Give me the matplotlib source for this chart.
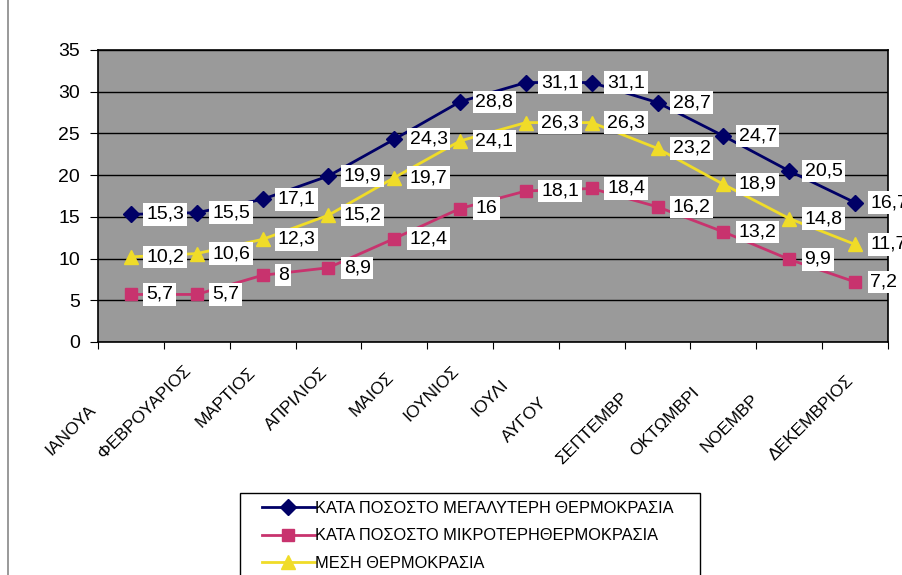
import matplotlib.pyplot as plt
from matplotlib.lines import Line2D
from matplotlib.patches import Rectangle
from matplotlib.transforms import offset_copy

plt.rcParams['font.family'] = ['Liberation Sans', 'DejaVu Sans']

months = ['ΙΑΝΟΥΑ', 'ΦΕΒΡΟΥΑΡΙΟΣ', 'ΜΑΡΤΙΟΣ', 'ΑΠΡΙΛΙΟΣ', 'ΜΑΙΟΣ', 'ΙΟΥΝΙΟΣ',
          'ΙΟΥΛΙ', 'ΑΥΓΟΥ', 'ΣΕΠΤΕΜΒΡ', 'ΟΚΤΩΜΒΡΙ', 'ΝΟΕΜΒΡ', 'ΔΕΚΕΜΒΡΙΟΣ']
max_temp = [15.3, 15.5, 17.1, 19.9, 24.3, 28.8, 31.1, 31.1, 28.7, 24.7, 20.5, 16.7]
min_temp = [5.7, 5.7, 8, 8.9, 12.4, 16, 18.1, 18.4, 16.2, 13.2, 9.9, 7.2]
mean_temp = [10.2, 10.6, 12.3, 15.2, 19.7, 24.1, 26.3, 26.3, 23.2, 18.9, 14.8, 11.7]

labels = ['ΚΑΤΑ ΠΟΣΟΣΤΟ ΜΕΓΑΛΥΤΕΡΗ ΘΕΡΜΟΚΡΑΣΙΑ',
          'ΚΑΤΑ ΠΟΣΟΣΤΟ ΜΙΚΡΟΤΕΡΗΘΕΡΜΟΚΡΑΣΙΑ',
          'ΜΕΣΗ ΘΕΡΜΟΚΡΑΣΙΑ']

# where each (clipped) month label ends, pixels left of / below its category
label_shift = [(43, 60), (14, 21), (15, 23), (8, 23), (8, 28), (9, 21),
               (25, 35), (53, 53), (37, 48), (32, 43), (38, 50), (9, 31)]

fig = plt.figure(figsize=(9.02, 5.75), dpi=100)
ax = fig.add_axes([98 / 902, 1 - 342 / 575, 790 / 902, 292 / 575])
ax.set_facecolor('#9a9a9a')

x = list(range(len(months)))
series = [
    (max_temp, '#000066', 'D', 8),
    (min_temp, '#c8336e', 's', 8.5),
    (mean_temp, '#f0dc28', '^', 10.5),
]
handles = []
for (vals, color, marker, ms), lab in zip(series, labels):
    h, = ax.plot(x, vals, color=color, marker=marker, markersize=ms, lw=2,
                 label=lab, zorder=3)
    handles.append(h)
    # value labels in white boxes, comma decimals
    for xi, v in zip(x, vals):
        txt = f'{v:g}'.replace('.', ',')
        ax.annotate(txt, (xi, v), xytext=(11, 0), textcoords='offset points',
                    ha='left', va='center', fontsize=14, color='black', zorder=5,
                    bbox=dict(boxstyle='square,pad=0.14', fc='white', ec='none'))

ax.set_xlim(-0.5, len(months) - 0.5)
ax.set_ylim(0, 35)
ax.set_yticks(range(0, 36, 5))
ax.yaxis.grid(True, color='black', lw=1)
ax.set_axisbelow(True)
ax.tick_params(axis='y', labelsize=14, length=6, pad=7, direction='out')
ax.set_xticks([i - 0.5 for i in range(len(months) + 1)])
ax.set_xticklabels([])
ax.tick_params(axis='x', length=5, direction='out')
for sp in ax.spines.values():
    sp.set_color('black')
    sp.set_linewidth(1.2)

for xi, name, (dx, dy) in zip(x, months, label_shift):
    tr = offset_copy(ax.get_xaxis_transform(), fig=fig, x=-dx, y=-dy, units='dots')
    ax.text(xi, 0, name, transform=tr, rotation=45, rotation_mode='anchor',
            ha='right', va='top', fontsize=12.5, clip_on=False)

# outer chart frame on the left
fig.add_artist(Line2D([8 / 902, 8 / 902], [0, 1], color='#888888', lw=1.2))

# legend box (runs off the bottom of the page)
fig.add_artist(Rectangle((240 / 902, -0.02), 460 / 902, 1 - 493 / 575 + 0.02,
                         transform=fig.transFigure, fill=False, ec='black', lw=1))
fig.legend(handles=handles, loc='upper left', bbox_to_anchor=(254 / 902, 1 - 493 / 575),
           frameon=False, fontsize=11.8, handlelength=3.2, labelspacing=0.75,
           handletextpad=0.05, borderpad=0.5, borderaxespad=0)

fig.savefig('out.png', dpi=100)
